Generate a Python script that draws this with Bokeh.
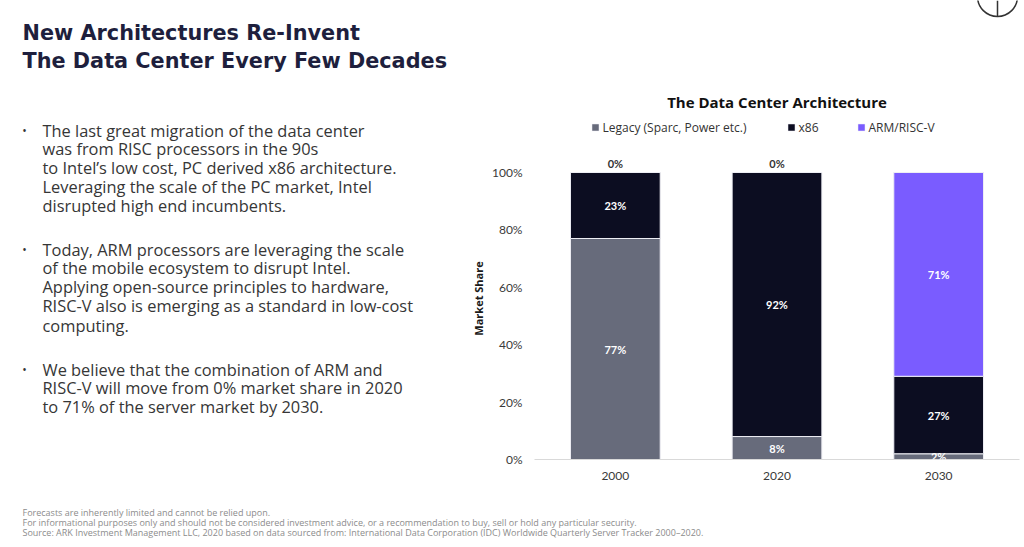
from bokeh.plotting import figure
from bokeh.layouts import column, row
from bokeh.models import (Label, Range1d, FactorRange, ColumnDataSource, NumeralTickFormatter,
                          FixedTicker, LabelSet)
from bokeh.core.properties import value
from bokeh.embed import file_html
from bokeh.resources import INLINE

# ---------------- data ----------------
years = ["2000", "2020", "2030"]
legacy = [0.77, 0.08, 0.02]
x86 = [0.23, 0.92, 0.27]
arm = [0.00, 0.00, 0.71]
series_keys = ["legacy", "x86", "arm"]
series_names = ["Legacy (Sparc, Power etc.)", "x86", "ARM/RISC-V"]
y_ticks = [0, 0.2, 0.4, 0.6, 0.8, 1.0]

title_lines = ["New Architectures Re-Invent", "The Data Center Every Few Decades"]
bullets = [
    ["The last great migration of the data center",
     "was from RISC processors in the 90s",
     "to Intel\u2019s low cost, PC derived x86 architecture.",
     "Leveraging the scale of the PC market, Intel",
     "disrupted high end incumbents."],
    ["Today, ARM processors are leveraging the scale",
     "of the mobile ecosystem to disrupt Intel.",
     "Applying open-source principles to hardware,",
     "RISC-V also is emerging as a standard in low-cost",
     "computing."],
    ["We believe that the combination of ARM and",
     "RISC-V will move from 0% market share in 2020",
     "to 71% of the server market by 2030."],
]
footer_lines = [
    "Forecasts are inherently limited and cannot be relied upon.",
    "For informational purposes only and should not be considered investment advice, or a recommendation to buy, sell or hold any particular security.",
    "Source: ARK Investment Management LLC, 2020 based on data sourced from: International Data Corporation (IDC) Worldwide Quarterly Server Tracker 2000\u20132020.",
]
chart_title = "The Data Center Architecture"
y_label = "Market Share"

# ---------------- styles / layout ----------------
colors = ["#676b7b", "#0c0d21", "#7a5cff"]
FONT = "Open Sans"
AXFONT = "Lato"
LEFT_W, TOP_H = 460, 500
RIGHT_W = 562
HEAD_H = 137                   # page y where the chart frame starts
FOOT_H = 45
FRAME_LEFT_PAGE = 534
FRAME_RIGHT_PAGE = 1019
ZERO_Y = 459                   # page y of 0%
HUNDRED_Y = 172                # page y of 100%
PX_PER_UNIT = ZERO_Y - HUNDRED_Y
BORDER_L = FRAME_LEFT_PAGE - LEFT_W
BORDER_R = LEFT_W + RIGHT_W - FRAME_RIGHT_PAGE


def blank_fig(w, h, x0=0, x1=None, bl=0, br=0):
    f = figure(width=w, height=h, x_range=Range1d(x0, x1 if x1 is not None else w),
               y_range=Range1d(h, 0),
               output_backend="svg", toolbar_location=None,
               min_border=0, min_border_left=bl, min_border_right=br,
               min_border_top=0, min_border_bottom=0)
    f.axis.visible = False
    f.grid.visible = False
    f.outline_line_color = None
    f.background_fill_color = "white"
    f.border_fill_color = "white"
    return f


def put(f, text, x, y, size, color, style="normal", align="left", baseline="middle", font=FONT):
    f.add_layout(Label(x=x, y=y, text=text, text_font=font, text_font_size=size,
                       text_color=color, text_font_style=style, text_align=align,
                       text_baseline=baseline))


# ---------------- left text panel ----------------
left = blank_fig(LEFT_W, TOP_H)
for t, cy in zip(title_lines, [32.5, 60.5]):
    put(left, t, 22, cy, "20.8px", "#1e1f3d", "bold", font="DejaVu Sans")

block_centers = [[129.5, 148, 167, 186, 205], [248.5, 267, 286, 305, 324.5], [368.5, 387, 406]]
for lines, cys in zip(bullets, block_centers):
    put(left, "\u2022", 24, cys[0], "12px", "#333333", align="center")
    for t, c in zip(lines, cys):
        put(left, t, 42, c, "16.4px", "#363636")

# ---------------- chart head (title + legend), x in page pixels ----------------
head = blank_fig(RIGHT_W, HEAD_H, FRAME_LEFT_PAGE, FRAME_RIGHT_PAGE, BORDER_L, BORDER_R)
put(head, chart_title, (FRAME_LEFT_PAGE + FRAME_RIGHT_PAGE) / 2, 101, "15px", "#111111", "bold",
    align="center")
# small logo mark in the top-right corner
head.scatter(x=[997], y=[-4], size=40, marker="circle", fill_color=None,
             line_color="#333333", line_width=1.5)
head.segment(x0=[997], y0=[0], x1=[997], y1=[16], line_color="#333333", line_width=1.5)

legend_square_x = [595, 791, 861]
legend_y = 127
head.scatter(x=legend_square_x, y=[legend_y] * 3, marker="square", size=7, color=colors,
             line_color="#eeeef4", line_width=0.5)
for name, lx in zip(series_names, legend_square_x):
    put(head, name, lx + 7, legend_y, "12px", "#333333")

# ---------------- chart ----------------
CH_H = TOP_H - HEAD_H
p = figure(x_range=FactorRange(*years, range_padding=0),
           y_range=Range1d(0, (ZERO_Y - HEAD_H) / PX_PER_UNIT),
           width=RIGHT_W, height=CH_H, output_backend="svg", toolbar_location=None,
           min_border_left=BORDER_L, min_border_right=BORDER_R,
           min_border_top=0, min_border_bottom=TOP_H - ZERO_Y)
p.outline_line_color = None
p.xgrid.visible = False
p.ygrid.visible = False
p.background_fill_color = "white"
p.border_fill_color = "white"

src = ColumnDataSource(dict(year=years, legacy=legacy, x86=x86, arm=arm))
rends = p.vbar_stack(series_keys, x="year", width=0.555, source=src, color=colors,
                     line_color="#eeeef4", line_width=1)

p.yaxis.ticker = FixedTicker(ticks=y_ticks)
p.yaxis.formatter = NumeralTickFormatter(format="0%")
p.yaxis.axis_line_color = None
p.yaxis.major_tick_line_color = None
p.yaxis.minor_tick_line_color = None
p.yaxis.major_tick_out = 0
p.yaxis.minor_tick_out = 0
p.yaxis.major_label_standoff = 12
p.yaxis.major_label_text_font = AXFONT
p.yaxis.major_label_text_font_size = "12px"
p.yaxis.major_label_text_color = "#3a3a3a"
p.yaxis.axis_label = y_label
p.yaxis.axis_label_text_font = FONT
p.yaxis.axis_label_text_font_style = "bold"
p.yaxis.axis_label_text_font_size = "11px"
p.yaxis.axis_label_text_color = "#1a1a1a"
p.yaxis.axis_label_standoff = 3

p.xaxis.axis_line_color = "#d9d9d9"
p.xaxis.axis_line_width = 1
p.xaxis.major_tick_line_color = None
p.xaxis.minor_tick_line_color = None
p.xaxis.major_tick_out = 0
p.xaxis.major_label_standoff = 12
p.xaxis.major_label_text_font = AXFONT
p.xaxis.major_label_text_font_size = "12px"
p.xaxis.major_label_text_color = "#3a3a3a"

# segment labels
vals = [legacy, x86, arm]
in_x, in_y, in_t = [], [], []
top_x, top_t = [], []
for i, yr in enumerate(years):
    bottom = 0.0
    for s in range(3):
        v = vals[s][i]
        txt = f"{int(round(v * 100))}%"
        if v > 0:
            in_x.append(yr); in_y.append(bottom + v / 2); in_t.append(txt)
        else:
            top_x.append(yr); top_t.append(txt)
        bottom += v
p.add_layout(LabelSet(x="x", y="y", text="t", source=ColumnDataSource(dict(x=in_x, y=in_y, t=in_t)),
                      text_align="center", text_baseline="middle", text_color="white",
                      text_font=value(AXFONT), text_font_style="bold", text_font_size="11px"))
p.add_layout(LabelSet(x="x", y="y", text="t",
                      source=ColumnDataSource(dict(x=top_x, y=[1.0] * len(top_x), t=top_t)),
                      y_offset=9, text_align="center", text_baseline="middle", text_color="#333333",
                      text_font=value(AXFONT), text_font_style="bold", text_font_size="11px"))

# ---------------- footer ----------------
foot = blank_fig(LEFT_W + RIGHT_W, FOOT_H)
for t, cy in zip(footer_lines, [512, 522, 532]):
    put(foot, t, 22, cy - TOP_H, "9px", "#8c8c8c")

layout = column(row(left, column(head, p, spacing=0), spacing=0), foot, spacing=0)
open("out.html", "w").write(file_html(layout, INLINE))
